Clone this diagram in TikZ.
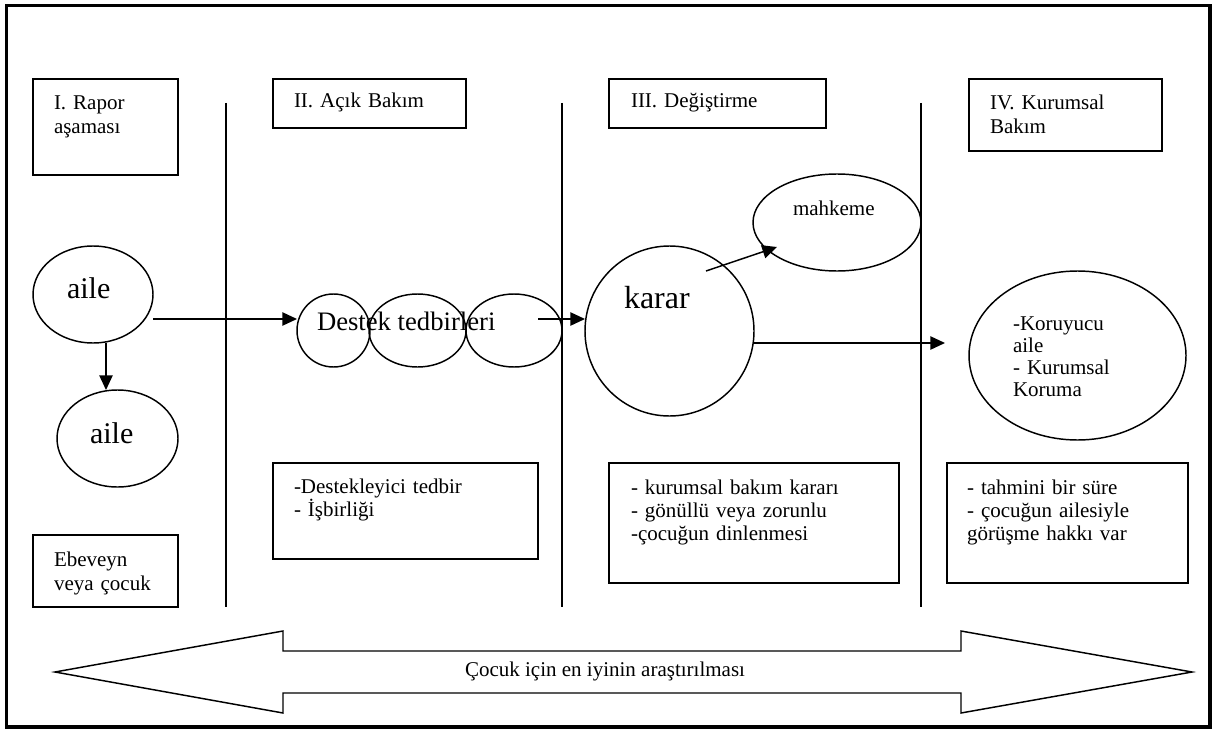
\documentclass[tikz,border=0pt]{standalone}
\usepackage{fontspec}
\setmainfont{Liberation Serif}
\usetikzlibrary{arrows.meta,shapes.geometric,calc}
% one drawing unit (a pixel of the layout grid)
\newcommand\pxu{0.75pt}

\begin{document}
\begin{tikzpicture}[x=0.75pt,y=-0.75pt,
  every node/.style={inner sep=0pt, outer sep=0pt},
  frame/.style={line width=2.3pt},
  panel/.style={draw, rectangle, line width=1.1pt, anchor=north west},
  oval/.style={draw, ellipse, line width=1.1pt},
  divider/.style={line width=1.1pt},
  txt/.style={anchor=base west, align=left, text width=250pt,
    font=\fontsize{15.75pt}{18pt}\selectfont},
  listtxt/.style={txt, font=\fontsize{15.75pt}{17.25pt}\selectfont},
  arr/.style={line width=1.1pt, -{Triangle[length=11pt,width=10pt]}},
]
\useasboundingbox (0,0) rectangle (1223,731);

% outer frame
\draw[frame] (6.5,5.5) rectangle (1210,727);

% stage dividers
\draw[divider] (226,103) -- (226,607);
\draw[divider] (562,103) -- (562,607);
\draw[divider] (921,103) -- (921,607);

% stage headers
\node[panel, minimum width=145*\pxu, minimum height=96*\pxu] (h1) at (33,79) {};
\node[panel, minimum width=193*\pxu, minimum height=49*\pxu] (h2) at (273,79) {};
\node[panel, minimum width=217*\pxu, minimum height=49*\pxu] (h3) at (609,79) {};
\node[panel, minimum width=193*\pxu, minimum height=72*\pxu] (h4) at (969,79) {};
\node[txt] (h1t) at (54,110) {I. Rapor\\aşaması};
\node[txt] (h2t) at (294,108) {II. Açık Bakım};
\node[txt] (h3t) at (631,108) {III. Değiştirme};
\node[txt] (h4t) at (990,110) {IV. Kurumsal\\Bakım};

% stage notes
\node[panel, minimum width=145*\pxu, minimum height=72*\pxu] (n1) at (33,535) {};
\node[panel, minimum width=265*\pxu, minimum height=96*\pxu] (n2) at (273,463) {};
\node[panel, minimum width=290*\pxu, minimum height=120*\pxu] (n3) at (609,463) {};
\node[panel, minimum width=241*\pxu, minimum height=120*\pxu] (n4) at (947,463) {};
\node[txt] (n1t) at (54,566) {Ebeveyn\\veya çocuk};
\node[listtxt] (n2t) at (294,493) {-Destekleyici tedbir\\- İşbirliği};
\node[listtxt] (n3t) at (631,494) {- kurumsal bakım kararı\\- gönüllü veya zorunlu\\-çocuğun dinlenmesi};
\node[listtxt] (n4t) at (967,494) {- tahmini bir süre\\- çocuğun ailesiyle\\görüşme hakkı var};

% process ovals
\node[oval, minimum width=120*\pxu, minimum height=97*\pxu] (aile1) at (93,294.5) {};
\node[oval, minimum width=121*\pxu, minimum height=97*\pxu] (aile2) at (117.5,438.5) {};
\node[oval, minimum width=73*\pxu, minimum height=73*\pxu] (d1) at (333.5,330.5) {};
\node[oval, minimum width=97*\pxu, minimum height=73*\pxu] (d2) at (417.5,330.5) {};
\node[oval, minimum width=96*\pxu, minimum height=73*\pxu] (d3) at (514,330.5) {};
\node[oval, minimum width=169*\pxu, minimum height=170*\pxu] (karar) at (669.5,331) {};
\node[oval, minimum width=168*\pxu, minimum height=97*\pxu] (mahk) at (837,222.5) {};
\node[oval, minimum width=217*\pxu, minimum height=169*\pxu] (care) at (1077.5,355.5) {};

\node[anchor=base west, font=\fontsize{22.5pt}{26pt}\selectfont] (aile1t) at (67,298) {aile};
\node[anchor=base west, font=\fontsize{22.5pt}{26pt}\selectfont] (aile2t) at (90,443) {aile};
\node[anchor=base west, font=\fontsize{20pt}{24pt}\selectfont] (dt) at (317,330) {Destek tedbirleri};
\node[anchor=base west, font=\fontsize{24pt}{28pt}\selectfont] (kt) at (624,308) {karar};
\node[anchor=base west, font=\fontsize{15.75pt}{18pt}\selectfont] (mt) at (793,215) {mahkeme};
\node[txt, font=\fontsize{15.75pt}{16.5pt}\selectfont] (ct) at (1013,330) {-Koruyucu\\aile\\- Kurumsal\\Koruma};

% connectors
\coordinate (rowA) at (0,319);
\coordinate (rowB) at (0,343);
\draw[arr] ($(aile1.south)+(13,0)$) -- ($(aile2.north)+(-11.5,0)$);
\draw[arr] (aile1.east |- rowA) -- (d1.west |- rowA);
\draw[arr] ($(d3.center |- rowA)+(24,0)$) -- (karar.west |- rowA);
\draw[arr] ($(karar.center)+(36.5,-60)$) -- ($(mahk.center)+(-60,24.5)$);
\draw[arr] (karar.east |- rowB) -- ($(care.west |- rowB)+(-24,0)$);

% double-headed band along the bottom
\draw[line width=1.1pt, line join=miter]
  (55,672) -- (283,631) -- (283,651) -- (961,651) -- (961,631) -- (1192,672)
  -- (961,713) -- (961,693) -- (283,693) -- (283,713) -- cycle;
\node[anchor=base, font=\fontsize{15.75pt}{18pt}\selectfont] (band) at (605,676) {Çocuk için en iyinin araştırılması};

\end{tikzpicture}
\end{document}
